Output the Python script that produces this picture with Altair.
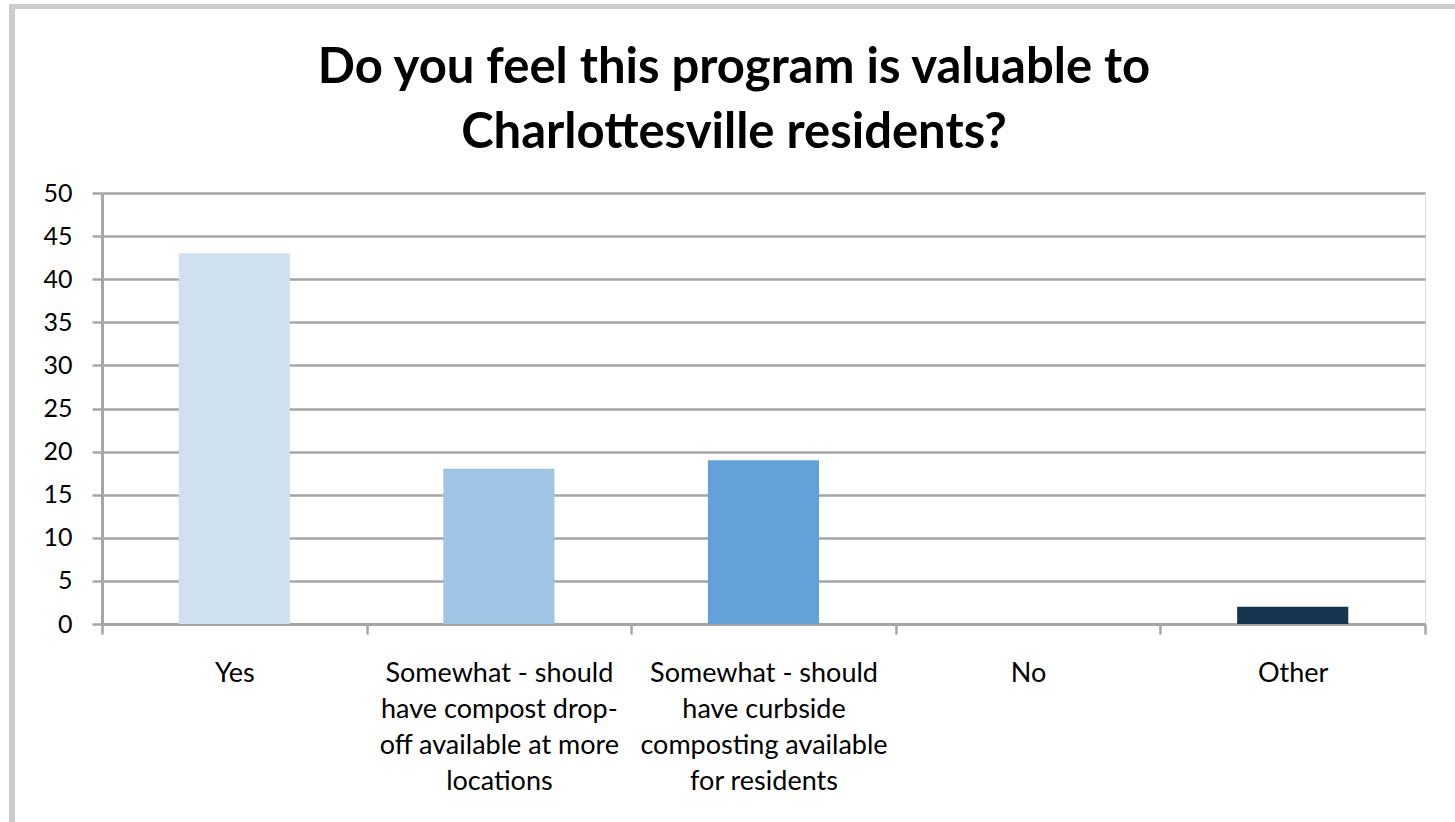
import altair as alt
import pandas as pd

categories = [
    "Yes",
    "Somewhat - should|have compost drop-|off available at more|locations",
    "Somewhat - should|have curbside|composting available|for residents",
    "No",
    "Other",
]
values = [43, 18, 19, 0, 2]
colors = ["#cfe0f1", "#9fc4e5", "#63a2d8", "#2e6ca4", "#15344f"]
y_ticks = [0, 5, 10, 15, 20, 25, 30, 35, 40, 45, 50]
title_lines = ["Do you feel this program is valuable to", "Charlottesville residents?"]

df = pd.DataFrame({"category": categories, "value": values, "color": colors})

W, H = 1323, 431
FONT = "Lato"

bars = alt.Chart(df).mark_bar(width=alt.RelativeBandSize(0.42)).encode(
    x=alt.X(
        "category:N",
        sort=categories,
        title=None,
        scale=alt.Scale(paddingInner=0, paddingOuter=0),
        axis=alt.Axis(
            labelAngle=0,
            labelExpr="split(datum.label, '|')",
            labelFont=FONT,
            labelFontSize=27,
            labelColor="#000000",
            labelLineHeight=36,
            labelPadding=26,
            labelBaseline="top",
            labelLimit=0,
            tickBand="extent",
            tickSize=10,
            tickColor="#a6a6a6",
            tickWidth=2.5,
            domainColor="#a6a6a6",
            domainWidth=3,
            grid=False,
        ),
    ),
    y=alt.Y(
        "value:Q",
        title=None,
        scale=alt.Scale(domain=[0, 50], nice=False),
        axis=alt.Axis(
            values=y_ticks,
            labelFont=FONT,
            labelFontSize=25,
            labelColor="#000000",
            labelPadding=20,
            tickSize=10,
            tickColor="#a6a6a6",
            tickWidth=2.5,
            domainColor="#a6a6a6",
            domainWidth=3,
            grid=True,
            gridColor="#a6a6a6",
            gridWidth=2.5,
        ),
    ),
    color=alt.Color("color:N", scale=None, legend=None),
)

title_layers = []
for text, base in zip(title_lines, [83, 148]):
    tdf = pd.DataFrame({"line": [text]})
    title_layers.append(
        alt.Chart(tdf).mark_text(
            font=FONT, fontSize=49, fontWeight="bold", color="#000000",
            baseline="alphabetic", align="center",
        ).encode(text="line:N", x=alt.value(734 - 102), y=alt.value(base - 193))
    )

border = alt.Chart(df).mark_rule(color="#cccccc", strokeWidth=6).encode(
    x=alt.value(-90), y=alt.value(-187), y2=alt.value(H + 210)
)
border_top = alt.Chart(df).mark_rule(color="#cccccc", strokeWidth=5).encode(
    x=alt.value(-93), x2=alt.value(W + 40), y=alt.value(-186.5)
)

chart = alt.layer(border, border_top, *title_layers, bars).properties(
    width=W,
    height=H,
    autosize=alt.AutoSizeParams(type="none"),
    padding={"left": 102, "top": 193, "right": 30, "bottom": 198},
).configure_view(stroke=None).configure(background="white")

chart.save("out.html", embed_options={"renderer": "svg", "actions": False})
